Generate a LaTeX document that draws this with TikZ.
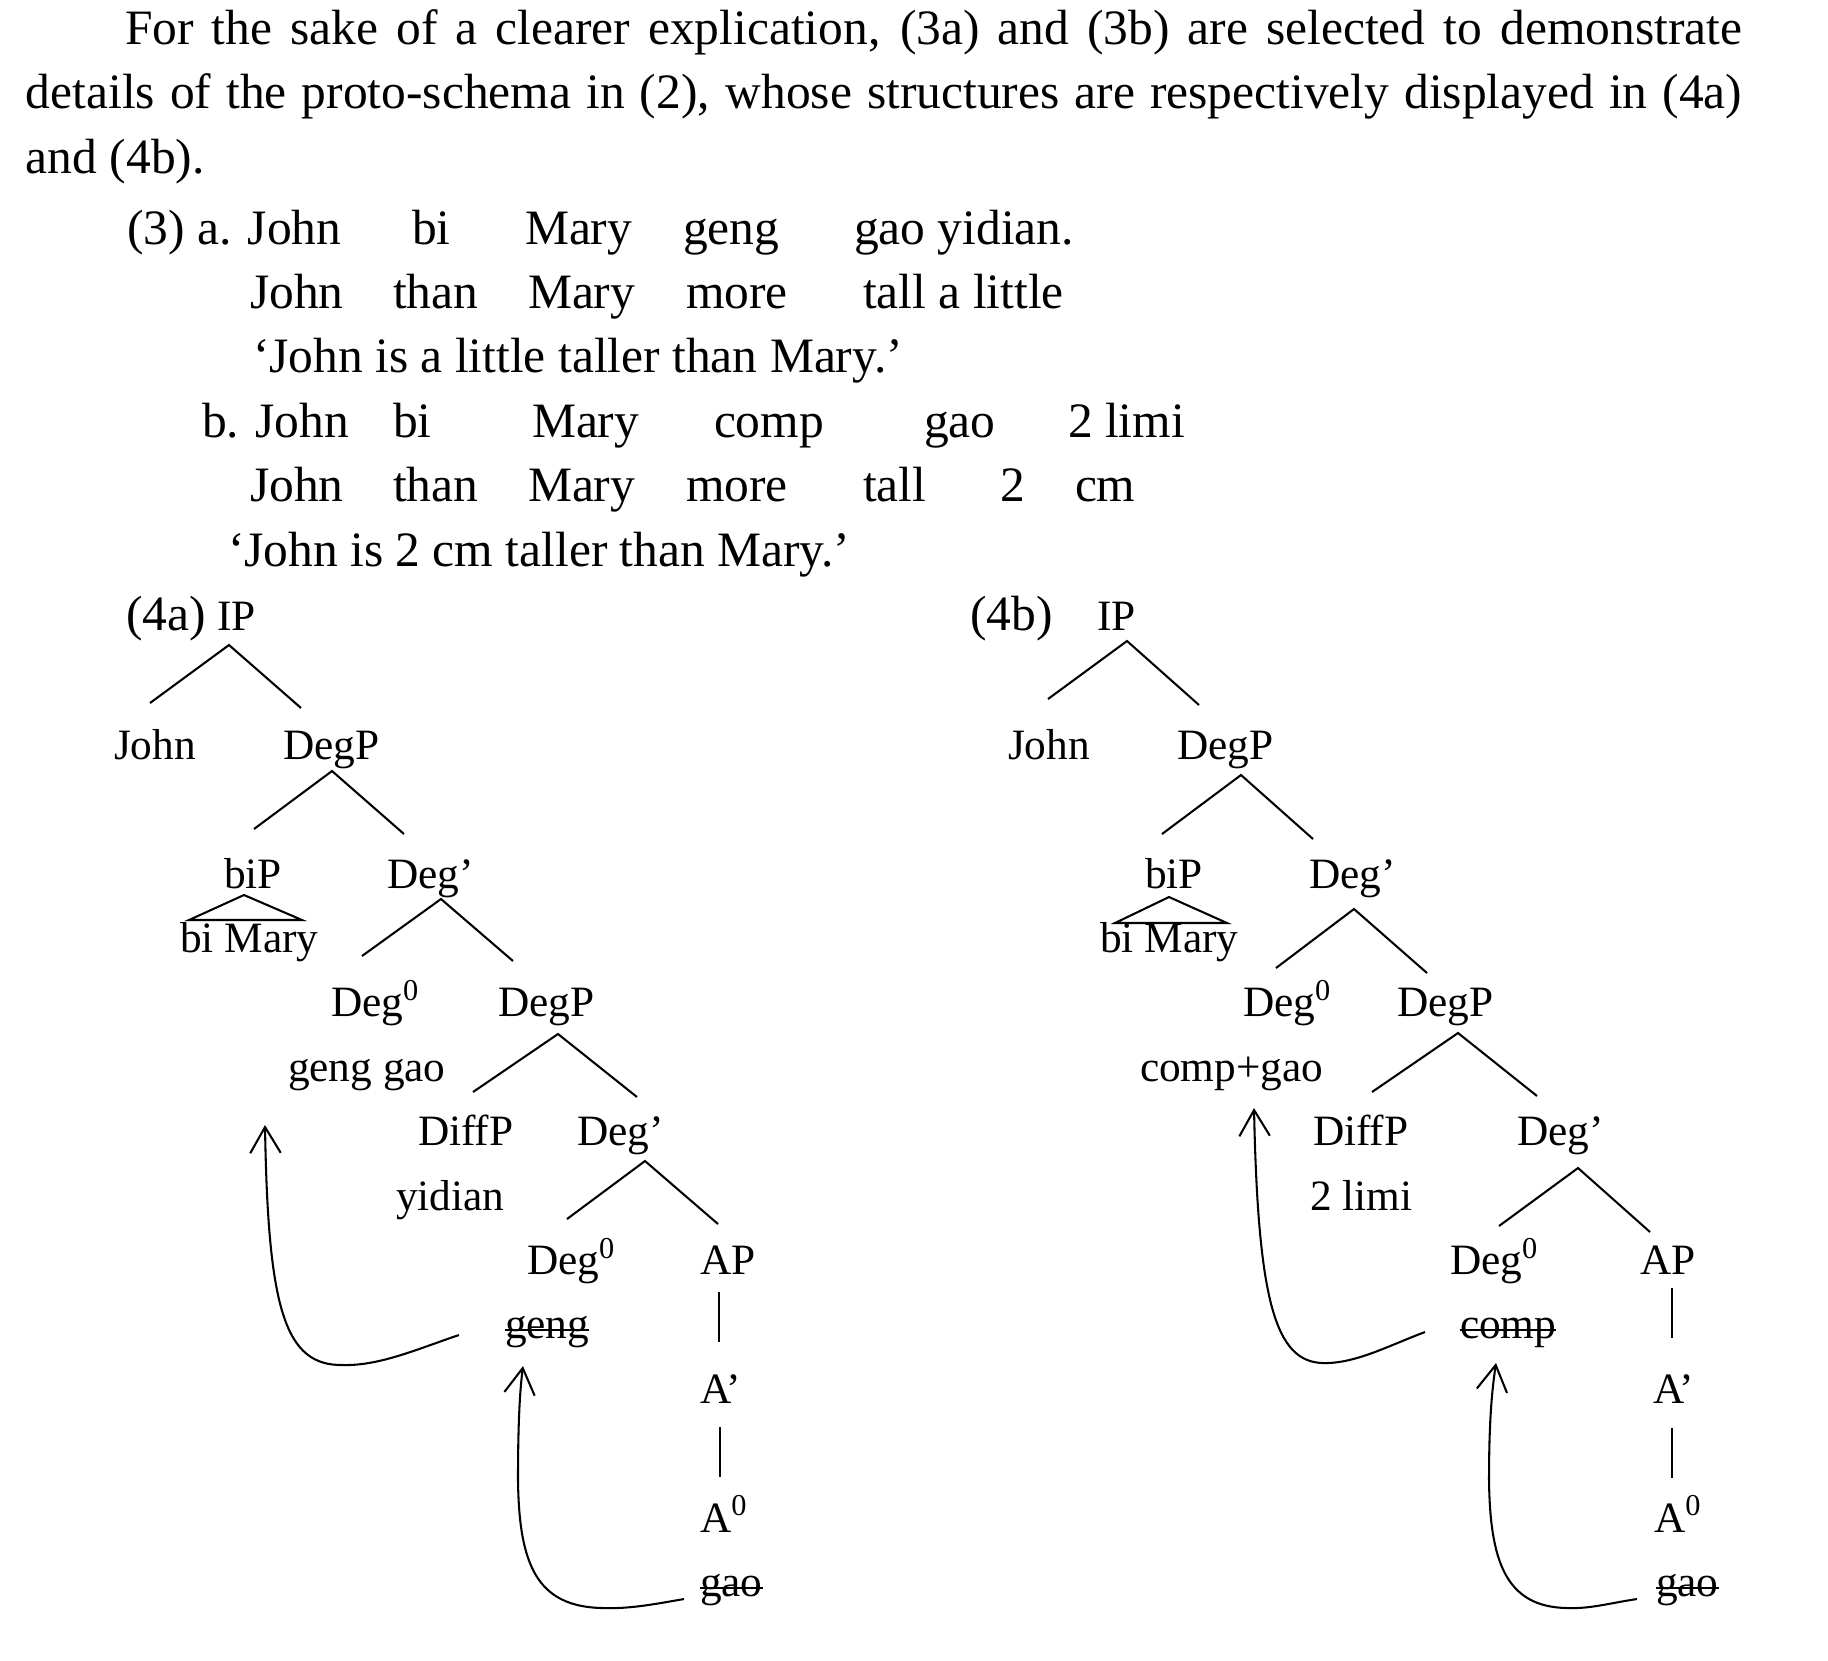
\documentclass[tikz,border=0pt]{standalone}
\usepackage{fontspec}
\setmainfont{Liberation Serif}
\usetikzlibrary{arrows.meta}
\newcommand{\mystrike}[1]{\draw[strike] ([yshift=2.1pt]#1.base west) -- ([yshift=2.1pt]#1.base east);}
\begin{document}
\begin{tikzpicture}[x=0.24242pt,y=-0.24242pt,
  every node/.style={inner sep=0pt,outer sep=0pt,anchor=base west,font=\fontsize{12pt}{15.6pt}\selectfont},
  tn/.style={font=\fontsize{10.5pt}{13pt}\selectfont},
  branch/.style={line width=0.5pt},
  strike/.style={line width=0.5pt},
  mv/.style={line width=0.5pt,-{Straight Barb[length=6.3pt,width=7.4pt]}}]
\useasboundingbox (0,0) rectangle (1828,1660);
\fill[white] (0,0) rectangle (1828,1660);

% paragraph
\node (par1) at (125,44) {\hbox to 392.0pt{For the sake of a clearer explication, (3a) and (3b) are selected to demonstrate}};
\node (par2) at (26,108.5) {\hbox to 416.0pt{details of the proto-schema in (2), whose structures are respectively displayed in (4a)}};
\node (par3) at (26,173) {and (4b).};

% example (3a)
\node (e1) at (127,244) {(3) a. John};
\node (e2) at (412,244) {bi};
\node (e3) at (525,244) {Mary};
\node (e4) at (683,244) {geng};
\node (e5) at (854,244) {gao yidian.};
\node (g1) at (250,308.4) {John};
\node (g2) at (393,308.4) {than};
\node (g3) at (528,308.4) {Mary};
\node (g4) at (686,308.4) {more};
\node (g5) at (863,308.4) {tall a little};
\node (t1) at (253,372.8) {‘John is a little taller than Mary.’};
% example (3b)
\node (f1) at (202,437.2) {b. John};
\node (f2) at (393,437.2) {bi};
\node (f3) at (532,437.2) {Mary};
\node (f4) at (714,437.2) {comp};
\node (f5) at (924,437.2) {gao};
\node (f6) at (1068,437.2) {2 limi};
\node (h1) at (250,501.6) {John};
\node (h2) at (393,501.6) {than};
\node (h3) at (528,501.6) {Mary};
\node (h4) at (686,501.6) {more};
\node (h5) at (863,501.6) {tall};
\node (h6) at (1000,501.6) {2};
\node (h7) at (1075,501.6) {cm};
\node (t2) at (228,566) {‘John is 2 cm taller than Mary.’};

% ---------- tree (4a) ----------
\node (a-lab) at (126,630.4) {(4a)};
\node[tn] (a-IP) at (217,630.4) {IP};
\node[tn] (a-John) at (114,759.2) {John};
\node[tn] (a-DegP1) at (283,759.2) {DegP};
\node[tn] (a-biP) at (224,888) {biP};
\node[tn] (a-Degb1) at (387,888) {Deg’};
\node[tn] (a-biMary) at (180,952.4) {bi Mary};
\node[tn] (a-Deg01) at (331,1016.8) {Deg\textsuperscript{0}};
\node[tn] (a-DegP2) at (498,1016.8) {DegP};
\node[tn] (a-genggao) at (288,1081.2) {geng gao};
\node[tn] (a-DiffP) at (418,1145.6) {DiffP};
\node[tn] (a-Degb2) at (577,1145.6) {Deg’};
\node[tn] (a-yidian) at (396,1210) {yidian};
\node[tn] (a-Deg02) at (527,1274.4) {Deg\textsuperscript{0}};
\node[tn] (a-AP) at (700,1274.4) {AP};
\node[tn] (a-geng) at (505,1338.8) {geng};
\node[tn] (a-Ab) at (700,1403.2) {A’};
\node[tn] (a-A0) at (700,1532) {A\textsuperscript{0}};
\node[tn] (a-gao) at (700,1596.4) {gao};

\coordinate (a-IP-t) at (229,645);   \coordinate (a-John-t) at (150,703);  \coordinate (a-DegP1-t) at (301,708);
\coordinate (a-DegP1-b) at (332,771); \coordinate (a-biP-t) at (254,829);  \coordinate (a-Degb1-t) at (404,834);
\coordinate (a-tri-a) at (244,895);  \coordinate (a-tri-l) at (189,920);  \coordinate (a-tri-r) at (302,920);
\coordinate (a-Degb1-b) at (441,899); \coordinate (a-Deg01-t) at (362,956); \coordinate (a-DegP2-t) at (513,961);
\coordinate (a-DegP2-b) at (558,1034); \coordinate (a-DiffP-t) at (473,1092); \coordinate (a-Degb2-t) at (637,1097);
\coordinate (a-Degb2-b) at (645,1161); \coordinate (a-Deg02-t) at (567,1219); \coordinate (a-AP-t) at (718,1224);
\coordinate (a-AP-b) at (719,1292); \coordinate (a-Ab-t) at (719,1342);
\coordinate (a-Ab-b) at (720,1427); \coordinate (a-A0-t) at (720,1477);

\draw[branch] (a-John-t) -- (a-IP-t) -- (a-DegP1-t);
\draw[branch] (a-biP-t) -- (a-DegP1-b) -- (a-Degb1-t);
\draw[branch] (a-tri-a) -- (a-tri-r) -- (a-tri-l) -- cycle;
\draw[branch] (a-Deg01-t) -- (a-Degb1-b) -- (a-DegP2-t);
\draw[branch] (a-DiffP-t) -- (a-DegP2-b) -- (a-Degb2-t);
\draw[branch] (a-Deg02-t) -- (a-Degb2-b) -- (a-AP-t);
\draw[branch] (a-AP-b) -- (a-Ab-t);
\draw[branch] (a-Ab-b) -- (a-A0-t);
\mystrike{a-geng}
\mystrike{a-gao}

\coordinate (a-m1s) at (459,1335); \coordinate (a-m1t) at (265,1125);
\coordinate (a-m2s) at (684,1599); \coordinate (a-m2t) at (523,1366);
\draw[mv] (a-m1s) .. controls (420,1348) and (380,1366) .. (343,1365)
  .. controls (285,1366) and (268,1310) .. (a-m1t);
\draw[mv] (a-m2s) .. controls (655,1604) and (630,1609) .. (603,1608)
  .. controls (537,1607) and (519,1565) .. (518,1480)
  .. controls (518,1420) and (520,1390) .. (a-m2t);

% ---------- tree (4b) ----------
\node (b-lab) at (970,630.4) {(4b)};
\node[tn] (b-IP) at (1097,630.4) {IP};
\node[tn] (b-John) at (1008,759.2) {John};
\node[tn] (b-DegP1) at (1177,759.2) {DegP};
\node[tn] (b-biP) at (1145,888) {biP};
\node[tn] (b-Degb1) at (1309,888) {Deg’};
\node[tn] (b-biMary) at (1100,952.4) {bi Mary};
\node[tn] (b-Deg01) at (1243,1016.8) {Deg\textsuperscript{0}};
\node[tn] (b-DegP2) at (1397,1016.8) {DegP};
\node[tn] (b-compgao) at (1140,1081.2) {comp+gao};
\node[tn] (b-DiffP) at (1313,1145.6) {DiffP};
\node[tn] (b-Degb2) at (1517,1145.6) {Deg’};
\node[tn] (b-limi) at (1310,1210) {2 limi};
\node[tn] (b-Deg02) at (1450,1274.4) {Deg\textsuperscript{0}};
\node[tn] (b-AP) at (1640,1274.4) {AP};
\node[tn] (b-comp) at (1460,1338.8) {comp};
\node[tn] (b-Ab) at (1653,1403.2) {A’};
\node[tn] (b-A0) at (1654,1532) {A\textsuperscript{0}};
\node[tn] (b-gao) at (1656,1596.4) {gao};

\coordinate (b-IP-t) at (1127,641);   \coordinate (b-John-t) at (1048,699);  \coordinate (b-DegP1-t) at (1199,705);
\coordinate (b-DegP1-b) at (1241,775); \coordinate (b-biP-t) at (1162,834);  \coordinate (b-Degb1-t) at (1313,839);
\coordinate (b-tri-a) at (1169,897);  \coordinate (b-tri-l) at (1115,923);  \coordinate (b-tri-r) at (1227,923);
\coordinate (b-Degb1-b) at (1354,909); \coordinate (b-Deg01-t) at (1276,968); \coordinate (b-DegP2-t) at (1427,973);
\coordinate (b-DegP2-b) at (1458,1033); \coordinate (b-DiffP-t) at (1372,1092); \coordinate (b-Degb2-t) at (1537,1096);
\coordinate (b-Degb2-b) at (1578,1168); \coordinate (b-Deg02-t) at (1499,1226); \coordinate (b-AP-t) at (1650,1232);
\coordinate (b-AP-b) at (1672,1288); \coordinate (b-Ab-t) at (1672,1338);
\coordinate (b-Ab-b) at (1672,1428); \coordinate (b-A0-t) at (1672,1478);

\draw[branch] (b-John-t) -- (b-IP-t) -- (b-DegP1-t);
\draw[branch] (b-biP-t) -- (b-DegP1-b) -- (b-Degb1-t);
\draw[branch] (b-tri-a) -- (b-tri-r) -- (b-tri-l) -- cycle;
\draw[branch] (b-Deg01-t) -- (b-Degb1-b) -- (b-DegP2-t);
\draw[branch] (b-DiffP-t) -- (b-DegP2-b) -- (b-Degb2-t);
\draw[branch] (b-Deg02-t) -- (b-Degb2-b) -- (b-AP-t);
\draw[branch] (b-AP-b) -- (b-Ab-t);
\draw[branch] (b-Ab-b) -- (b-A0-t);
\mystrike{b-comp}
\mystrike{b-gao}

\coordinate (b-m1s) at (1425,1332); \coordinate (b-m1t) at (1254,1108);
\coordinate (b-m2s) at (1637,1599); \coordinate (b-m2t) at (1496,1363);
\draw[mv] (b-m1s) .. controls (1390,1345) and (1355,1364) .. (1323,1363)
  .. controls (1275,1362) and (1258,1300) .. (b-m1t);
\draw[mv] (b-m2s) .. controls (1610,1603) and (1590,1609) .. (1567,1608)
  .. controls (1505,1607) and (1490,1560) .. (1489,1480)
  .. controls (1489,1420) and (1492,1390) .. (b-m2t);
\end{tikzpicture}
\end{document}
